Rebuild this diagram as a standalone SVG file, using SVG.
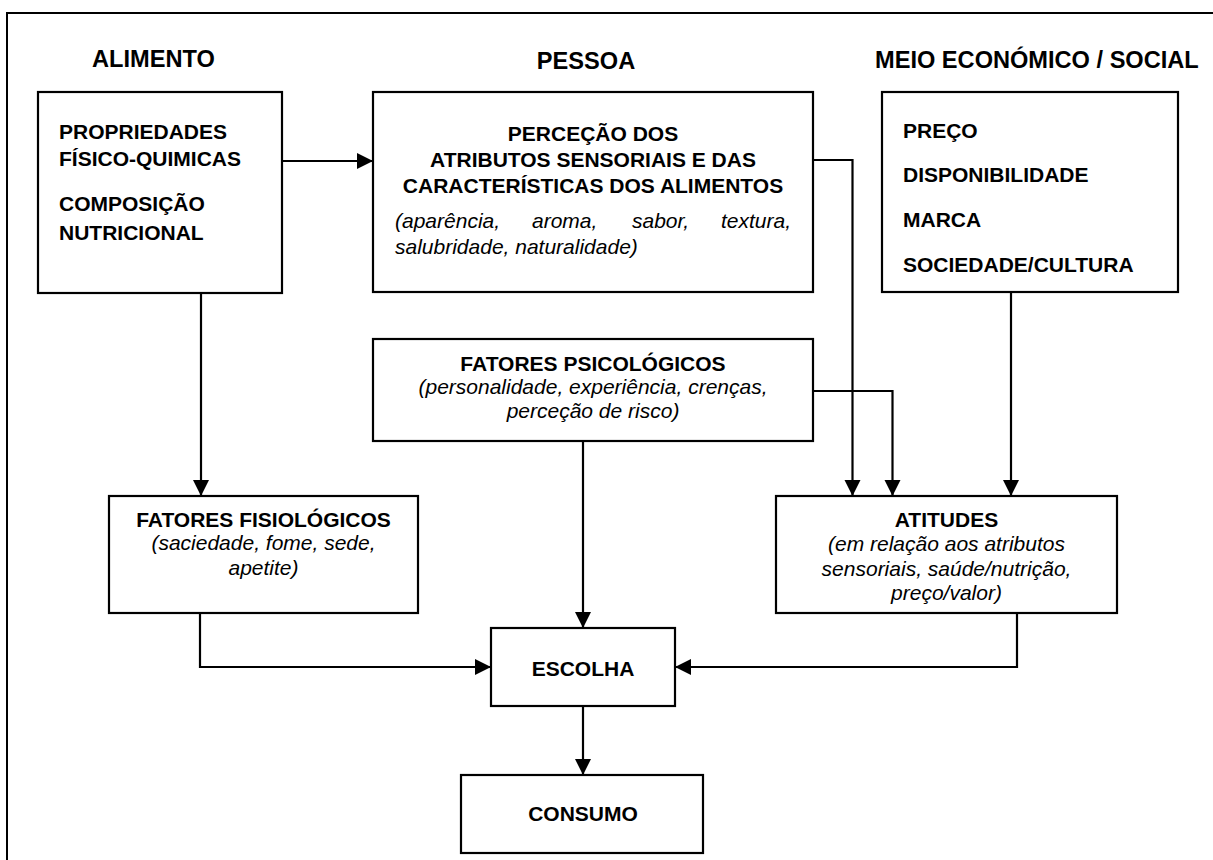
<svg xmlns="http://www.w3.org/2000/svg" width="1213" height="860" viewBox="0 0 1213 860">
<defs>
<style>
.box{fill:#fff;stroke:#000;stroke-width:2.2}
.frame{fill:#fff;stroke:#000;stroke-width:2}
.b{font-family:"Liberation Sans",Arial,sans-serif;font-weight:bold;font-size:21px;fill:#000}
.h{font-family:"Liberation Sans",Arial,sans-serif;font-weight:bold;font-size:23.6px;fill:#000}
.i{font-family:"Liberation Sans",Arial,sans-serif;font-style:italic;font-size:21px;fill:#000}
.c{text-anchor:middle}
.con{fill:none;stroke:#000;stroke-width:2.2}
</style>
<marker id="arr" markerUnits="userSpaceOnUse" markerWidth="17" markerHeight="17" refX="16" refY="8" orient="auto">
<path d="M0,0 L16,8 L0,16 Z" fill="#000"/>
</marker>
</defs>
<rect class="frame" x="7" y="13" width="1220" height="860"/>
<g id="headers">
<text class="h" x="92" y="67">ALIMENTO</text>
<text class="h c" x="586" y="69">PESSOA</text>
<text class="h" x="875" y="68">MEIO ECONÓMICO / SOCIAL</text>
</g>
<g id="alimento">
<rect class="box" x="38" y="92" width="244" height="201"/>
<text class="b" x="59" y="139">PROPRIEDADES</text>
<text class="b" x="59" y="166">FÍSICO-QUIMICAS</text>
<text class="b" x="59" y="211">COMPOSIÇÃO</text>
<text class="b" x="59" y="240">NUTRICIONAL</text>
</g>
<g id="percecao">
<rect class="box" x="373" y="92" width="440" height="200"/>
<text class="b c" x="593" y="141">PERCEÇÃO DOS</text>
<text class="b c" x="593" y="167">ATRIBUTOS SENSORIAIS E DAS</text>
<text class="b c" x="593" y="193">CARACTERÍSTICAS DOS ALIMENTOS</text>
<text class="i" y="228"><tspan x="395">(aparência,</tspan><tspan x="532">aroma,</tspan><tspan x="632">sabor,</tspan><tspan x="721">textura,</tspan></text>
<text class="i" x="395" y="254">salubridade, naturalidade)</text>
</g>
<g id="meio">
<rect class="box" x="882" y="92" width="296" height="200"/>
<text class="b" x="903" y="138">PREÇO</text>
<text class="b" x="903" y="182">DISPONIBILIDADE</text>
<text class="b" x="903" y="227">MARCA</text>
<text class="b" x="903" y="272">SOCIEDADE/CULTURA</text>
</g>
<g id="psicologicos">
<rect class="box" x="373" y="339" width="440" height="102"/>
<text class="b c" x="593" y="371">FATORES PSICOLÓGICOS</text>
<text class="i c" x="593" y="394">(personalidade, experiência, crenças,</text>
<text class="i c" x="593" y="418">perceção de risco)</text>
</g>
<g id="fisiologicos">
<rect class="box" x="109" y="496" width="309" height="117"/>
<text class="b c" x="263.5" y="527">FATORES FISIOLÓGICOS</text>
<text class="i c" x="263.5" y="550">(saciedade, fome, sede,</text>
<text class="i c" x="263.5" y="575">apetite)</text>
</g>
<g id="atitudes">
<rect class="box" x="776" y="496" width="341" height="117"/>
<text class="b c" x="946.5" y="527">ATITUDES</text>
<text class="i c" x="946.5" y="551">(em relação aos atributos</text>
<text class="i c" x="946.5" y="576">sensoriais, saúde/nutrição,</text>
<text class="i c" x="946.5" y="600">preço/valor)</text>
</g>
<g id="escolha">
<rect class="box" x="491" y="628" width="184" height="78"/>
<text class="b c" x="583" y="676">ESCOLHA</text>
</g>
<g id="consumo">
<rect class="box" x="461" y="775" width="242" height="78"/>
<text class="b c" x="583" y="821">CONSUMO</text>
</g>
<g id="connectors">
<path class="con" marker-end="url(#arr)" d="M282,161 H373"/>
<path class="con" marker-end="url(#arr)" d="M201,293 V496"/>
<path class="con" marker-end="url(#arr)" d="M813,160 H852.5 V496"/>
<path class="con" marker-end="url(#arr)" d="M813,391 H892.5 V496"/>
<path class="con" marker-end="url(#arr)" d="M1011,292 V496"/>
<path class="con" marker-end="url(#arr)" d="M583,441 V628"/>
<path class="con" marker-end="url(#arr)" d="M200,613 V667 H491"/>
<path class="con" marker-end="url(#arr)" d="M1017,613 V667 H675"/>
<path class="con" marker-end="url(#arr)" d="M583,706 V775"/>
</g>
</svg>
